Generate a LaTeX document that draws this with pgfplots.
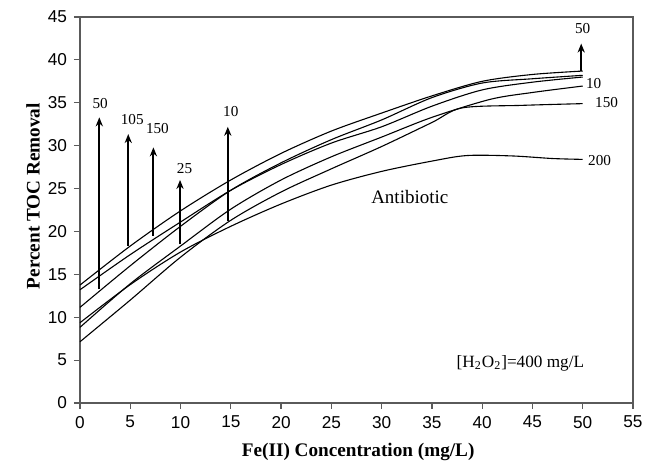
\documentclass[border=0pt]{standalone}
\usepackage{fontspec}
\setmainfont{Liberation Serif}
\setsansfont{Liberation Sans}
\usepackage{pgfplots}
\pgfplotsset{compat=1.18}
\usetikzlibrary{arrows.meta}

\definecolor{axgray}{RGB}{90,90,90}

\tikzset{
  curve/.style={black, line width=0.55pt, smooth, tension=0.5, mark=none},
  uparrow/.style={-{Stealth[length=4.5pt,width=3.6pt]}, black, line width=0.9pt, mark=none},
  numlab/.style={font=\fontsize{7.6}{8}\selectfont, inner sep=0pt},
}

\begin{document}
\begin{tikzpicture}
\begin{axis}[
    name=ax,
    scale only axis,
    width=276.5pt, height=193pt,
    xmin=0, xmax=55, ymin=0, ymax=45,
    xtick={0,5,...,55}, ytick={0,5,...,45},
    tick align=outside, tick pos=left,
    major tick length=3pt,
    axis line style={draw=axgray, line width=0.6pt},
    tick style={axgray, line width=0.6pt},
    clip=false,
    /pgf/number format/assume math mode=true,
    tick label style={font=\fontsize{8.6}{9}\sffamily},
    label style={font=\fontsize{9.6}{11}\selectfont\bfseries},
    xlabel={Fe(II) Concentration (mg/L)},
    ylabel={Percent TOC Removal},
    xlabel style={at={(axis description cs:0.503,-0.127)}, anchor=center},
    ylabel style={at={(axis description cs:-0.085,0.536)}, anchor=center},
  ]
  % six response curves
  \addplot[curve] coordinates {(0,13.75)(5,18.3)(10,22.4)(15,26.0)(20,29.1)(25,31.7)(30,33.8)(35,35.8)(40,37.5)(45,38.3)(50,38.7)};
  \addplot[curve] coordinates {(0,13.2)(5,17.3)(10,21.1)(15,24.8)(20,27.8)(25,30.3)(30,32.2)(35,34.6)(40,36.5)(45,37.4)(50,38.0)};
  \addplot[curve] coordinates {(0,11.15)(5,16.0)(10,20.6)(15,24.8)(20,28.0)(25,30.7)(30,33.0)(35,35.6)(40,37.3)(45,37.8)(50,38.2)};
  \addplot[curve] coordinates {(0,8.82)(5,13.9)(10,18.3)(15,22.6)(20,26.0)(25,28.7)(30,31.0)(35,33.3)(40.8,35.4)(45,36.2)(50,36.95)};
  \addplot[curve] coordinates {(0,7.14)(5,12.0)(10,17.0)(15,21.3)(20,24.6)(25,27.3)(30,29.9)(35,32.7)(38,34.4)(44,34.7)(50,34.9)};
  \addplot[curve] coordinates {(0,9.36)(5,13.8)(10,17.6)(15,20.6)(20,23.2)(25,25.4)(30,27.0)(35,28.2)(38.5,28.85)(43,28.8)(47,28.5)(50,28.4)};

  % arrows
  \addplot[uparrow] coordinates {(1.92,13.25)(1.92,33.3)};
  \addplot[uparrow] coordinates {(4.8,18.3)(4.8,31.35)};
  \addplot[uparrow] coordinates {(7.3,19.5)(7.3,29.8)};
  \addplot[uparrow] coordinates {(9.95,18.5)(9.95,26.0)};
  \addplot[uparrow] coordinates {(14.7,21.25)(14.7,32.2)};
  \addplot[uparrow] coordinates {(49.85,38.7)(49.85,41.9)};

  \node[numlab] at (axis cs:2.0,34.9) {50};
  \node[numlab] at (axis cs:5.2,33.0) {105};
  \node[numlab] at (axis cs:7.7,32.0) {150};
  \node[numlab] at (axis cs:10.4,27.35) {25};
  \node[numlab] at (axis cs:15.0,34.0) {10};
  \node[numlab] at (axis cs:50.0,43.7) {50};
  \node[numlab, anchor=west] at (axis cs:50.3,37.3) {10};
  \node[numlab, anchor=west] at (axis cs:51.2,35.0) {150};
  \node[numlab, anchor=west] at (axis cs:50.5,28.3) {200};

  \node[font=\fontsize{9.5}{11}\selectfont] at (axis cs:32.8,24.05) {Antibiotic};
  \node[font=\fontsize{8.6}{10}\selectfont] at (axis cs:43.8,4.6) {[H\textsubscript{2}O\textsubscript{2}]=400 mg/L};
\end{axis}
\pgfresetboundingbox
\path ([xshift=-40pt,yshift=-29.5pt]ax.south west) rectangle ([xshift=6.5pt,yshift=8.5pt]ax.north east);
\end{tikzpicture}
\end{document}
